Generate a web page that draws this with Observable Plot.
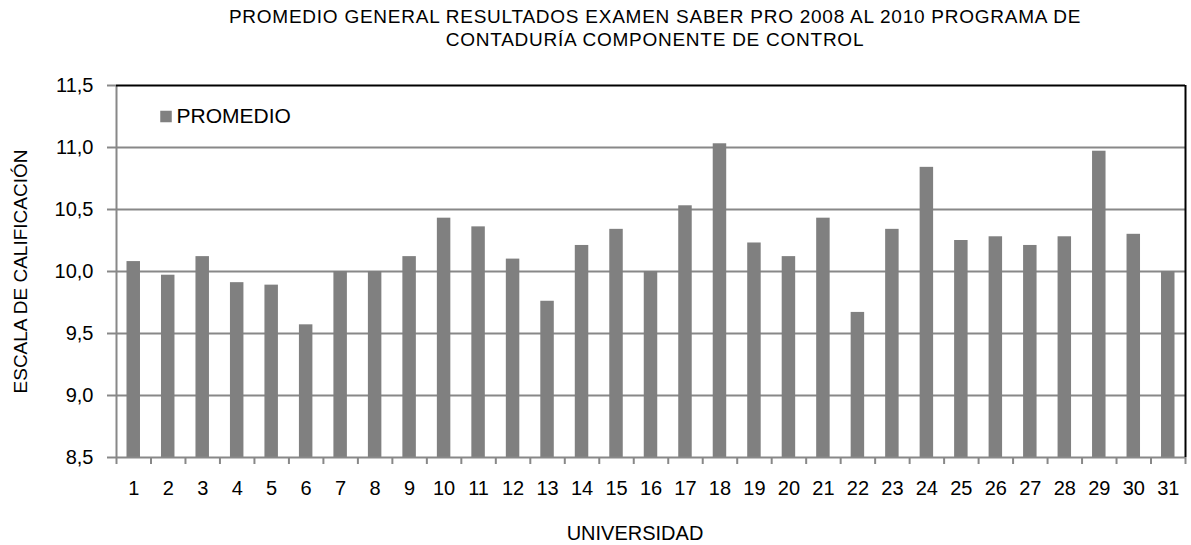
<!DOCTYPE html>
<html>
<head>
<meta charset="utf-8">
<script src="https://cdn.jsdelivr.net/npm/d3@7"></script>
<script src="https://cdn.jsdelivr.net/npm/@observablehq/plot@0.6"></script>
<style>
  html, body { margin: 0; padding: 0; background: #fff; overflow: hidden; }
  #wrap { position: relative; width: 1191px; height: 545px; font-family: "Liberation Sans", Arial, sans-serif; }
  #title { position: absolute; top: 5px; left: 130px; width: 1050px; text-align: center; font-size: 19px; line-height: 23px; color: #000; letter-spacing: 0.75px; }
  #chart { position: absolute; top: 72px; left: 0; }
</style>
</head>
<body>
<div id="wrap">
  <div id="title">PROMEDIO GENERAL RESULTADOS EXAMEN SABER PRO 2008 AL 2010 PROGRAMA DE<br>CONTADURÍA COMPONENTE DE CONTROL</div>
  <div id="chart"></div>
</div>
<script>
const universidades = d3.range(1, 32);
const promedio = [10.08, 9.97, 10.12, 9.91, 9.89, 9.57, 10.00, 10.00, 10.12, 10.43,
                  10.36, 10.10, 9.76, 10.21, 10.34, 10.00, 10.53, 11.03, 10.23, 10.12,
                  10.43, 9.67, 10.34, 10.84, 10.25, 10.28, 10.21, 10.28, 10.97, 10.30, 10.00];
const yTicks = [8.5, 9, 9.5, 10, 10.5, 11, 11.5];
const gridValues = [9, 9.5, 10, 10.5, 11];
const serieNombre = "PROMEDIO";
const yTitulo = "ESCALA DE CALIFICACIÓN";
const xTitulo = "UNIVERSIDAD";

const data = universidades.map((u, i) => ({u, v: promedio[i]}));
const xMin = universidades[0] - 0.5, xMax = universidades[universidades.length - 1] + 0.5;
const boundaries = d3.range(xMin, xMax + 0.01, 1);
const fmt = d => d.toFixed(1).replace(".", ",");
const font = "Liberation Sans, Arial, sans-serif";
const grey = "#888888";

const chart = Plot.plot({
  width: 1191,
  height: 473,
  marginTop: 13,
  marginBottom: 88,
  marginLeft: 116,
  marginRight: 6,
  style: {fontFamily: font, fontSize: "19px", color: "#000", background: "#fff", overflow: "visible"},
  x: {type: "linear", domain: [xMin, xMax]},
  y: {domain: [yTicks[0], yTicks[yTicks.length - 1]]},
  marks: [
    Plot.ruleY(gridValues, {stroke: grey, strokeWidth: 2}),
    Plot.rectY(data, {x1: d => d.u - 0.5, x2: d => d.u + 0.5, y1: yTicks[0], y2: "v",
                      insetLeft: 10.5, insetRight: 10.5, fill: "#808080"}),
    Plot.ruleY([yTicks[0]], {stroke: grey, strokeWidth: 2}),
    Plot.ruleX([xMin], {stroke: grey, strokeWidth: 2}),
    Plot.ruleY([yTicks[yTicks.length - 1]], {stroke: "#000", strokeWidth: 2}),
    Plot.ruleX([xMax], {stroke: "#000", strokeWidth: 2}),
    Plot.axisY({ticks: yTicks, tickFormat: fmt, tickSize: 9, tickPadding: 14,
                stroke: grey, strokeWidth: 2, fill: "#000", label: null, fontSize: 20}),
    Plot.axisX({ticks: boundaries, tickFormat: () => "", tickSize: 7, stroke: grey,
                strokeWidth: 2, label: null}),
    Plot.axisX({ticks: universidades, tickFormat: d => String(d), tickSize: 0,
                tickPadding: 23, fill: "#000", label: null, fontSize: 20}),
    Plot.dot([serieNombre], {frameAnchor: "top-left", dx: 49.5, dy: 31, symbol: "square",
                             r: 6.5, fill: "#808080", stroke: null}),
    Plot.text([serieNombre], {frameAnchor: "top-left", dx: 60, dy: 31, text: d => d,
                              textAnchor: "start", lineAnchor: "middle", fontSize: 21, fill: "#000"}),
    Plot.text([yTitulo], {frameAnchor: "left", dx: -96, rotate: -90, text: d => d,
                          textAnchor: "middle", lineAnchor: "middle", fontSize: 19, fill: "#000"}),
    Plot.text([xTitulo], {frameAnchor: "bottom", dx: -16, dy: 76, text: d => d,
                          textAnchor: "middle", lineAnchor: "middle", fontSize: 20, fill: "#000"})
  ]
});
document.getElementById("chart").appendChild(chart);
</script>
</body>
</html>
